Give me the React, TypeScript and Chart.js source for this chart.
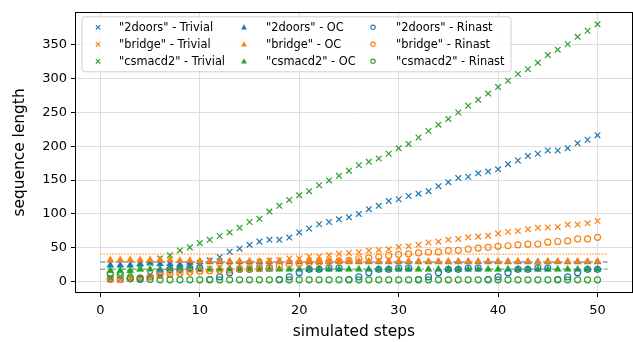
import React, { useEffect, useRef } from 'react';
import { Chart, registerables } from 'chart.js';

Chart.register(...registerables);

// ---- data ----
const steps = [1,2,3,4,5,6,7,8,9,10,11,12,13,14,15,16,17,18,19,20,21,22,23,24,25,26,27,28,29,30,31,32,33,34,35,36,37,38,39,40,41,42,43,44,45,46,47,48,49,50];

const doorsTrivial = [4,4,5,5,10,14,16,20,24,27, 31,36,44,48.6,54.3,59,61.6,61.6,65,72.6, 78.4,84.7,88,92,95,100,107,112,119,121.7, 126.5,130,133.7,141,147,153,155,160,162.6,166, 173.6,179,185.6,189,193.8,193.8,197.2,204.4,209.7,216.5];
const bridgeTrivial = [3,3,4,5,6,9,11,13,15,17, 19,21,23,25,27,29,31,32,34,34, 37,37,39,41,42.3,43.3,45.7,46.7,47.6,51, 52,54.3,57.7,59,61.6,63,65.4,66.4,67.8,71.2, 73.6,74.6,77.4,79.4,79.9,80.8,84.2,84.2,86.1,89.5];
const csmacdTrivial = [6,8,13,19,27,34,39,46,50.5,56.8, 61.6,67.3,72.6,79.4,88,92.8,103.4,112,120.7,127.5, 133.7,142.4,149.6,156.3,164,172,177,182,189,197, 203.5,213,222.7,232,240.5,250,260,269,278,287.6, 297,307,314,323.7,335,343,351,362,371,380.5];

const doorsOC = [24,24,24,26,28,26,26,25,28,29, 29,29,29,29,29,29,29,29,29,29, 29,29,29,29,29,29,29,29,29,29, 29,29,29,29,29,29,29,29,29,29, 29,29,29,29,29,29,29,29,29,29];
const bridgeOC = [32,32,32,32,32,32,32,31,31,30, 30,30,30,30,30,30,30,30,30,30, 30,30,30,30,30,29.5,29.5,29.5,29.5,29.5, 29.5,29.5,29.5,29.5,29.5,29.5,29.5,29.5,29.5,29.5, 29.5,29.5,29.5,28,29.5,29.5,29.5,29.5,29.5,29.5];
const csmacdOC = [16,16,16,18,18,18,18,18,18,18, 18,18,18,18,18,18,18,18,18,18, 18,18,18,18,18,18,18,18,18,18, 18,18,18,18,18,18,18,18,18,18, 18,18,18,18,18,18,18,18,18,18];

const doorsRinast = [4,3,4,3,7,13,18,18,20,20, 3,7,13,18,18,20,20,3,7,13, 18,18,20,20,3,7,13,18,18,20, 20,3,7,13,18,18,20,20,3,7, 13,18,18,20,20,3,7,13,18,18];
const bridgeRinast = [3,3,4,5,7,9,11,12,14,15, 16,16.5,17,18,18.5,19,21,23,25.5,26.5, 28,28.5,29.5,30.5,31.3,33.7,35.1,36.5,38.5,40, 40.9,42.3,43.3,43.8,45.7,46.2,48.1,49.5,50.5,52, 52.9,54.3,55.3,55.5,58.2,59.2,60.1,63,63,65.4];
const csmacdRinast = [11,10,5,5,3,2.5,2.5,2.5,2.5,2.5, 2.5,2.5,2.5,2.5,2.5,2.5,2.5,2.5,2.5,2.5, 2.5,2.5,2.5,2.5,2.5,2.5,2.5,2.5,2.5,2.5, 2.5,2.5,2.5,2.5,2.5,2.5,2.5,2.5,2.5,2.5, 2.5,2.5,2.5,2.5,2.5,2.5,2.5,2.5,2.5,2.5];

const refLevels = [28.9, 40.6, 18.3]; // 2doors, bridge, csmacd2
const refStart = 0;
const refEnd = 51;

const xTicks = [0, 10, 20, 30, 40, 50];
const yTicks = [0, 50, 100, 150, 200, 250, 300, 350];

const BLUE = '#1f77b4';
const ORANGE = '#ff7f0e';
const GREEN = '#2ca02c';
const FONT = "'DejaVu Sans', sans-serif";

type Kind = 'x' | 'tri' | 'o';

const series: { label: string; data: number[]; color: string; kind: Kind }[] = [
  { label: '"2doors" - Trivial', data: doorsTrivial, color: BLUE, kind: 'x' },
  { label: '"bridge" - Trivial', data: bridgeTrivial, color: ORANGE, kind: 'x' },
  { label: '"csmacd2" - Trivial', data: csmacdTrivial, color: GREEN, kind: 'x' },
  { label: '"2doors" - OC', data: doorsOC, color: BLUE, kind: 'tri' },
  { label: '"bridge" - OC', data: bridgeOC, color: ORANGE, kind: 'tri' },
  { label: '"csmacd2" - OC', data: csmacdOC, color: GREEN, kind: 'tri' },
  { label: '"2doors" - Rinast', data: doorsRinast, color: BLUE, kind: 'o' },
  { label: '"bridge" - Rinast', data: bridgeRinast, color: ORANGE, kind: 'o' },
  { label: '"csmacd2" - Rinast', data: csmacdRinast, color: GREEN, kind: 'o' },
];

function drawMarker(ctx: CanvasRenderingContext2D, kind: Kind, color: string, x: number, y: number, s: number) {
  ctx.save();
  ctx.strokeStyle = color;
  ctx.fillStyle = color;
  ctx.lineWidth = 1.1;
  if (kind === 'x') {
    ctx.beginPath();
    ctx.moveTo(x - s, y - s); ctx.lineTo(x + s, y + s);
    ctx.moveTo(x - s, y + s); ctx.lineTo(x + s, y - s);
    ctx.stroke();
  } else if (kind === 'tri') {
    ctx.beginPath();
    ctx.moveTo(x, y - s * 1.2);
    ctx.lineTo(x + s * 1.1, y + s * 0.8);
    ctx.lineTo(x - s * 1.1, y + s * 0.8);
    ctx.closePath();
    ctx.fill();
  } else {
    ctx.beginPath();
    ctx.arc(x, y, s, 0, Math.PI * 2);
    ctx.stroke();
  }
  ctx.restore();
}

const framePlugin = {
  id: 'frameLegend',
  afterDatasetsDraw(chart: any) {
    const { ctx, chartArea: a } = chart;
    ctx.save();
    ctx.strokeStyle = '#000';
    ctx.lineWidth = 1;
    ctx.strokeRect(Math.round(a.left) + 0.5, Math.round(a.top) + 0.5, Math.round(a.right - a.left) - 1, Math.round(a.bottom - a.top) - 1);
    ctx.restore();
  },
  afterDraw(chart: any) {
    const { ctx, chartArea: a } = chart;
    const boxL = a.left + 7, boxT = a.top + 5, boxW = 429, boxH = 55;
    ctx.save();
    ctx.beginPath();
    const r = 3;
    ctx.moveTo(boxL + r, boxT);
    ctx.arcTo(boxL + boxW, boxT, boxL + boxW, boxT + boxH, r);
    ctx.arcTo(boxL + boxW, boxT + boxH, boxL, boxT + boxH, r);
    ctx.arcTo(boxL, boxT + boxH, boxL, boxT, r);
    ctx.arcTo(boxL, boxT, boxL + boxW, boxT, r);
    ctx.closePath();
    ctx.fillStyle = 'rgba(255,255,255,0.8)';
    ctx.fill();
    ctx.strokeStyle = '#d0d0d0';
    ctx.lineWidth = 1;
    ctx.stroke();
    const colMarkerX = [boxL + 16, boxL + 162, boxL + 291];
    const colTextX = [boxL + 37, boxL + 184, boxL + 314];
    const rowY = [boxT + 10.5, boxT + 27.5, boxT + 44.5];
    ctx.font = `11.4px ${FONT}`;
    ctx.textBaseline = 'middle';
    ctx.fillStyle = '#000';
    series.forEach((s, i) => {
      const col = Math.floor(i / 3);
      const row = i % 3;
      drawMarker(ctx, s.kind, s.color, colMarkerX[col], rowY[row], s.kind === 'tri' ? 2.6 : 2.2);
      ctx.fillStyle = '#000';
      ctx.fillText(s.label, colTextX[col], rowY[row] + 0.5);
    });
    ctx.restore();
  },
};

const CANVAS_W = 638;
const CANVAS_H = 342;

export default function App() {
  const ref = useRef<HTMLCanvasElement>(null);

  useEffect(() => {
    if (!ref.current) return;
    const datasets: any[] = [];
    const refColors = [BLUE, ORANGE, GREEN];
    const refDash = [[5, 2.5], [1.5, 1.5], [5, 2, 1.5, 2]];
    refLevels.forEach((lv, i) => {
      datasets.push({
        type: 'line',
        label: 'ref' + i,
        data: [{ x: refStart, y: lv }, { x: refEnd, y: lv }],
        borderColor: refColors[i],
        borderWidth: 1,
        borderDash: refDash[i],
        pointRadius: 0,
        fill: false,
        order: 200 + i,
      });
    });
    series.forEach((s, i) => {
      const base: any = {
        type: 'scatter',
        label: s.label,
        data: steps.map((x, j) => ({ x, y: s.data[j] })),
        order: 100 - i,
        borderColor: s.color,
      };
      if (s.kind === 'x') {
        Object.assign(base, { pointStyle: 'crossRot', pointRadius: 4, borderWidth: 1.2, backgroundColor: s.color });
      } else if (s.kind === 'tri') {
        Object.assign(base, { pointStyle: 'triangle', pointRadius: 4, borderWidth: 0.5, backgroundColor: s.color });
      } else {
        Object.assign(base, { pointStyle: 'circle', pointRadius: 3, borderWidth: 1.2, backgroundColor: 'rgba(0,0,0,0)' });
      }
      datasets.push(base);
    });

    const gridColor = '#dedede';
    const chart = new Chart(ref.current, {
      type: 'scatter',
      data: { datasets },
      plugins: [framePlugin],
      options: {
        animation: false,
        responsive: false,
        maintainAspectRatio: false,
        layout: { padding: { top: 5, right: 0, left: 0, bottom: 0 } },
        plugins: { legend: { display: false }, tooltip: { enabled: false } },
        scales: {
          x: {
            type: 'linear',
            min: -2.55,
            max: 53.55,
            afterBuildTicks: (axis: any) => { axis.ticks = xTicks.map((v) => ({ value: v })); },
            afterFit: (axis: any) => { axis.height = 49; },
            grid: { color: gridColor, lineWidth: 1, tickColor: '#000', tickLength: 4 },
            border: { display: false },
            ticks: { color: '#000', font: { family: FONT, size: 13 }, padding: 6, maxRotation: 0, autoSkip: false },
            title: { display: true, text: 'simulated steps', color: '#000', font: { family: FONT, size: 15.4 }, padding: { top: 0, bottom: 1 } },
          },
          y: {
            type: 'linear',
            min: -17,
            max: 399,
            afterBuildTicks: (axis: any) => { axis.ticks = yTicks.map((v) => ({ value: v })); },
            afterFit: (axis: any) => { axis.width = 75; },
            grid: { color: gridColor, lineWidth: 1, tickColor: '#000', tickLength: 4 },
            border: { display: false },
            ticks: { color: '#000', font: { family: FONT, size: 13 }, padding: 4, autoSkip: false },
            title: { display: true, text: 'sequence length', color: '#000', font: { family: FONT, size: 15.4 }, padding: { top: 11, bottom: 0 } },
          },
        },
      } as any,
    });
    return () => chart.destroy();
  }, []);

  return (
    <div style={{ position: 'fixed', left: 0, top: 0, width: 633, height: 342, overflow: 'hidden', background: '#fff' }}>
      <canvas ref={ref} width={CANVAS_W} height={CANVAS_H} style={{ width: CANVAS_W, height: CANVAS_H, display: 'block' }} />
    </div>
  );
}
